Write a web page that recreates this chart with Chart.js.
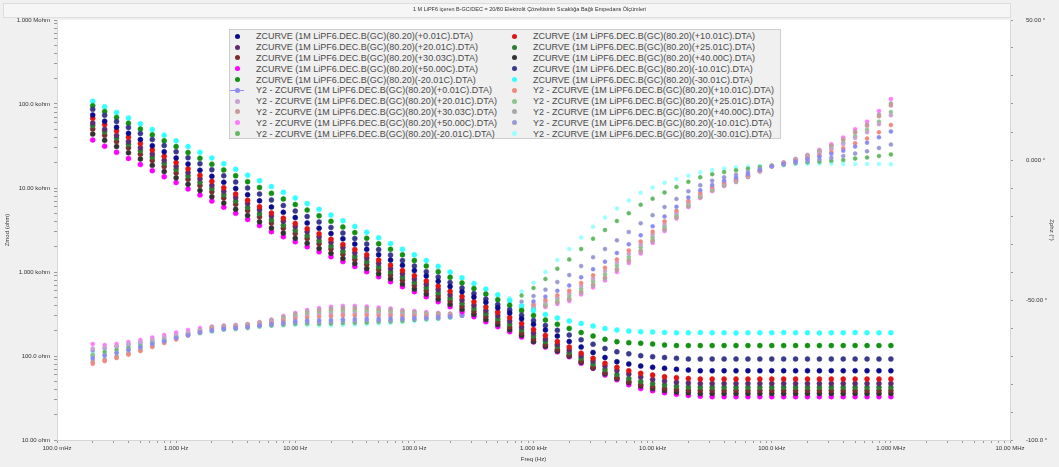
<!DOCTYPE html>
<html>
<head>
<meta charset="utf-8">
<title>Empedans Ölçümleri</title>
<script src="https://cdn.jsdelivr.net/npm/chart.js"></script>
<style>
    body { margin: 0; background: #f0f0f0; }
    #wrap { position: relative; width: 1059px; height: 467px; }
    #legend {
        position: absolute; left: 229px; top: 29px; width: 552px; height: 110px;
        background: #f0f0f0; border: 1px solid #cfcfcf; box-sizing: border-box;
        padding-top: 1px;
        display: grid; grid-template-columns: 277px 273px;
        font-family: "Liberation Sans", Arial, sans-serif; font-size: 9px; color: #4a4a4a;
    }
    .item { display: flex; align-items: center; height: 10.8px; white-space: nowrap; }
    .mk { position: relative; width: 14px; height: 10px; margin-right: 12px; }
    .mk i { position: absolute; left: 4.5px; top: 2.5px; width: 5px; height: 5px; border-radius: 50%; }
    .mk b { position: absolute; left: 0; top: 4.5px; width: 14px; height: 1px; }
</style>
</head>
<body>
<div id="wrap">
    <canvas id="impedanceChart"></canvas>
    <div id="legend"></div>
</div>
<script>
// Frequencies (Hz), 10 points per decade
const freqHz = [0.1995, 0.2512, 0.3162, 0.3981, 0.5012, 0.631, 0.7943, 1.0, 1.259, 1.585,
    1.995, 2.512, 3.162, 3.981, 5.012, 6.31, 7.943, 10, 12.59, 15.85,
    19.95, 25.12, 31.62, 39.81, 50.12, 63.1, 79.43, 100, 125.9, 158.5,
    199.5, 251.2, 316.2, 398.1, 501.2, 631, 794.3, 1000, 1259, 1585,
    1995, 2512, 3162, 3981, 5012, 6310, 7943, 10000, 12590, 15850,
    19950, 25120, 31620, 39810, 50120, 63100, 79430, 100000, 125900, 158500,
    199500, 251200, 316200, 398100, 501200, 631000, 794300, 1000000];

const temps = ['+0.01C', '+10.01C', '+20.01C', '+25.01C', '+30.03C', '+40.00C', '+50.00C', '-10.01C', '-20.01C', '-30.01C'];

// Zmod (ohm)
const zmodP0 = [74000, 62500, 52800, 44700, 37800, 31900, 27000, 22800, 19300, 16300,
    13800, 11700, 9850, 8320, 7040, 5940, 5140, 4440, 3840, 3320,
    2870, 2490, 2150, 1860, 1610, 1390, 1200, 1040, 899, 777,
    672, 581, 503, 435, 376, 325, 277, 238, 204, 173,
    149, 128, 110, 96.0, 85.5, 80.3, 76.0, 73.4, 71.4, 69.5,
    68.1, 66.8, 66.8, 66.8, 66.8, 66.8, 66.8, 66.8, 66.8, 66.8,
    66.8, 66.8, 66.8, 66.8, 66.8, 66.8, 66.8, 66.8];
const zmodP10 = [67600, 56900, 47800, 40200, 33800, 28400, 23900, 20100, 16900, 14200,
    12000, 10100, 8480, 7130, 6000, 5040, 4370, 3790, 3280, 2850,
    2460, 2130, 1850, 1600, 1390, 1210, 1040, 905, 784, 680,
    589, 511, 443, 384, 332, 288, 244, 207, 176, 149,
    128, 108, 93.9, 81.9, 73.4, 66.8, 62.2, 59.4, 56.7, 55.1,
    54.0, 53.2, 53.2, 53.2, 53.2, 53.2, 53.2, 53.2, 53.2, 53.2,
    53.2, 53.2, 53.2, 53.2, 53.2, 53.2, 53.2, 53.2];
const zmodP20 = [59400, 50100, 42300, 35700, 30100, 25400, 21400, 18100, 15300, 12900,
    10800, 9160, 7730, 6520, 5500, 4640, 4020, 3480, 3020, 2610,
    2260, 1960, 1690, 1470, 1270, 1100, 953, 825, 715, 619,
    536, 464, 402, 348, 302, 261, 221, 188, 159, 137,
    118, 101, 87.2, 76.0, 67.2, 61.1, 56.2, 52.5, 50.4, 48.6,
    47.7, 47.0, 47.0, 47.0, 47.0, 47.0, 47.0, 47.0, 47.0, 47.0,
    47.0, 47.0, 47.0, 47.0, 47.0, 47.0, 47.0, 47.0];
const zmodP25 = [55400, 46700, 39300, 33100, 27800, 23400, 19700, 16600, 14000, 11700,
    9860, 8300, 6980, 5870, 4940, 4160, 3610, 3130, 2710, 2350,
    2040, 1770, 1530, 1330, 1150, 1000, 867, 752, 652, 565,
    490, 425, 368, 320, 277, 240, 204, 173, 149, 130,
    110, 93.9, 80.3, 69.1, 60.2, 54.0, 49.7, 47.0, 45.2, 43.7,
    42.8, 42.4, 42.4, 42.4, 42.4, 42.4, 42.4, 42.4, 42.4, 42.4,
    42.4, 42.4, 42.4, 42.4, 42.4, 42.4, 42.4, 42.4];
const zmodP30 = [50400, 42400, 35700, 30100, 25300, 21300, 18000, 15100, 12700, 10700,
    9040, 7610, 6410, 5400, 4540, 3830, 3320, 2880, 2500, 2170,
    1880, 1630, 1410, 1230, 1060, 921, 799, 693, 600, 521,
    452, 391, 340, 295, 255, 221, 188, 159, 137, 120,
    103, 87.2, 74.0, 63.6, 55.4, 49.7, 45.8, 43.1, 41.0, 39.9,
    39.1, 38.8, 38.8, 38.8, 38.8, 38.8, 38.8, 38.8, 38.8, 38.8,
    38.8, 38.8, 38.8, 38.8, 38.8, 38.8, 38.8, 38.8];
const zmodP40 = [43900, 37000, 31200, 26300, 22100, 18600, 15700, 13200, 11100, 9360,
    7880, 6630, 5590, 4710, 3960, 3340, 2910, 2530, 2200, 1910,
    1670, 1450, 1260, 1100, 954, 830, 722, 628, 547, 476,
    414, 360, 313, 272, 237, 206, 176, 149, 131, 115,
    100, 84.5, 72.0, 61.5, 53.8, 48.3, 43.9, 40.9, 38.9, 37.4,
    36.4, 35.8, 35.8, 35.8, 35.8, 35.8, 35.8, 35.8, 35.8, 35.8,
    35.8, 35.8, 35.8, 35.8, 35.8, 35.8, 35.8, 35.8];
const zmodP50 = [37300, 31500, 26600, 22500, 19000, 16100, 13600, 11600, 9760, 8260,
    6980, 5900, 4990, 4220, 3570, 3020, 2630, 2290, 2000, 1740,
    1520, 1330, 1160, 1010, 879, 767, 668, 583, 508, 443,
    386, 337, 294, 256, 223, 195, 168, 147, 128, 112,
    98.0, 81.9, 71.4, 59.4, 52.2, 45.5, 40.9, 38.6, 36.6, 35.0,
    33.9, 33.2, 32.8, 32.8, 32.8, 32.8, 32.8, 32.8, 32.8, 32.8,
    32.8, 32.8, 32.8, 32.8, 32.8, 32.8, 32.8, 32.8];
const zmodM10 = [86500, 73300, 62100, 52600, 44600, 37800, 32000, 27100, 22900, 19500,
    16500, 14000, 11800, 10000, 8480, 7200, 6190, 5320, 4580, 3940,
    3390, 2910, 2510, 2150, 1850, 1590, 1370, 1180, 1010, 872,
    750, 645, 554, 477, 410, 353, 305, 265, 231, 202,
    178, 156, 138, 123, 112, 106, 101, 98.1, 96.0, 93.9,
    92.1, 92.1, 92.1, 92.1, 92.1, 92.1, 92.1, 92.1, 92.1, 92.1,
    92.1, 92.1, 92.1, 92.1, 92.1, 92.1, 92.1, 92.1];
const zmodM20 = [95400, 81300, 69300, 59000, 50300, 42900, 36500, 31100, 26500, 22600,
    19200, 16400, 14000, 11900, 10150, 8650, 7420, 6360, 5460, 4680,
    4010, 3440, 2950, 2530, 2170, 1860, 1600, 1370, 1180, 1010,
    865, 742, 636, 546, 468, 401, 348, 304, 268, 238,
    213, 190, 173, 158, 148, 144, 142, 139, 135, 133,
    133, 133, 133, 133, 133, 133, 133, 133, 133, 133,
    133, 133, 133, 133, 133, 133, 133, 133];
const zmodM30 = [108000, 92900, 79400, 68000, 58100, 49700, 42500, 36400, 31100, 26600,
    22800, 19500, 16700, 14200, 12200, 10400, 8910, 7620, 6520, 5580,
    4770, 4080, 3490, 2980, 2550, 2180, 1870, 1600, 1370, 1170,
    1000, 855, 732, 626, 535, 458, 394, 348, 312, 283,
    261, 244, 228, 212, 204, 198, 195, 193, 191, 189,
    189, 190, 189, 189, 188, 189, 189, 189, 190, 189,
    189, 188, 189, 189, 190, 189, 189, 189];

// Zphz (degrees)
const phaseP0 = [-70.7, -69.8, -68.9, -67.9, -66.9, -65.7, -64.7, -63.6, -62.6, -61.6,
    -60.8, -60.2, -60.0, -59.6, -59.1, -58.6, -58.1, -57.6, -57.3, -57.2,
    -57.1, -56.9, -56.8, -56.7, -56.7, -56.6, -56.6, -56.4, -56.3, -56.1,
    -55.9, -55.5, -54.9, -54.6, -53.8, -53.0, -52.0, -50.5, -48.8, -46.7,
    -44.8, -41.9, -39.0, -36.3, -33.2, -30.1, -26.9, -23.7, -20.2, -16.7,
    -13.4, -10.8, -8.9, -7.4, -6.3, -5.0, -3.5, -2.2, -1.4, -0.5,
    0.3, 1.2, 2.2, 3.3, 4.8, 6.2, 8.1, 10.2];
const phaseP10 = [-72.8, -71.8, -70.7, -69.5, -68.2, -66.8, -65.4, -64.1, -62.7, -61.5,
    -60.4, -59.9, -59.7, -59.3, -58.8, -58.2, -57.4, -56.8, -56.3, -56.0,
    -55.8, -55.5, -55.5, -55.5, -55.6, -55.6, -55.8, -55.7, -55.7, -55.7,
    -55.6, -55.4, -55.0, -54.7, -54.1, -53.5, -52.7, -51.5, -50.0, -48.3,
    -46.7, -43.9, -41.2, -38.5, -35.5, -32.3, -29.1, -25.6, -21.9, -18.1,
    -14.6, -11.8, -9.6, -8.0, -6.8, -5.4, -3.7, -2.2, -1.3, -0.3,
    0.6, 1.6, 2.8, 4.2, 6.0, 7.7, 9.9, 12.5];
const phaseP20 = [-67.3, -67.0, -66.5, -65.7, -65.0, -64.1, -63.2, -62.4, -61.5, -60.8,
    -60.2, -59.7, -59.5, -59.2, -58.6, -57.9, -57.1, -56.3, -55.7, -55.4,
    -55.1, -54.8, -54.8, -54.8, -55.0, -55.1, -55.3, -55.3, -55.4, -55.5,
    -55.4, -55.3, -55.0, -54.8, -54.3, -53.8, -53.0, -52.0, -50.6, -49.1,
    -47.6, -45.0, -42.3, -39.6, -36.6, -33.5, -30.2, -26.6, -22.8, -18.8,
    -15.1, -12.2, -10.0, -8.4, -7.1, -5.6, -3.8, -2.2, -1.1, -0.1,
    1.0, 2.4, 3.9, 5.7, 7.9, 9.9, 12.8, 16.0];
const phaseP25 = [-70.0, -69.6, -68.8, -67.7, -66.7, -65.5, -64.3, -63.1, -61.9, -60.9,
    -60.0, -59.6, -59.4, -59.0, -58.4, -57.7, -56.7, -55.9, -55.2, -54.8,
    -54.4, -54.1, -54.1, -54.2, -54.4, -54.6, -54.9, -55.0, -55.1, -55.3,
    -55.3, -55.2, -55.0, -54.9, -54.5, -54.1, -53.4, -52.4, -51.3, -49.8,
    -48.5, -46.0, -43.3, -40.8, -37.7, -34.6, -31.2, -27.6, -23.7, -19.5,
    -15.7, -12.7, -10.4, -8.7, -7.4, -5.7, -3.9, -2.2, -1.1, 0.0,
    1.2, 2.6, 4.2, 6.1, 8.5, 10.7, 13.7, 17.1];
const phaseP30 = [-72.2, -71.7, -70.6, -69.4, -68.1, -66.6, -65.1, -63.7, -62.2, -61.0,
    -59.9, -59.4, -59.2, -58.9, -58.2, -57.5, -56.4, -55.5, -54.7, -54.1,
    -53.7, -53.5, -53.4, -53.6, -53.8, -54.0, -54.5, -54.6, -54.9, -55.0,
    -55.1, -55.1, -55.0, -54.9, -54.6, -54.3, -53.7, -52.9, -51.9, -50.6,
    -49.5, -47.0, -44.4, -41.9, -38.9, -35.7, -32.3, -28.6, -24.5, -20.2,
    -16.2, -13.1, -10.7, -9.0, -7.6, -5.9, -4.0, -2.3, -1.0, 0.2,
    1.5, 3.1, 4.9, 7.1, 9.8, 12.2, 15.6, 19.5];
const phaseP40 = [-71.4, -71.1, -70.1, -68.9, -67.7, -66.2, -64.8, -63.4, -62.0, -60.7,
    -59.7, -59.3, -59.1, -58.7, -58.1, -57.2, -56.0, -55.0, -54.1, -53.5,
    -53.1, -52.8, -52.8, -52.9, -53.3, -53.5, -54.0, -54.3, -54.6, -54.8,
    -55.0, -55.1, -55.0, -55.0, -54.7, -54.4, -53.9, -53.1, -52.1, -50.9,
    -49.8, -47.4, -44.9, -42.3, -39.3, -36.1, -32.8, -29.0, -24.9, -20.5,
    -16.5, -13.3, -10.9, -9.1, -7.7, -6.0, -4.0, -2.3, -1.0, 0.3,
    1.6, 3.3, 5.1, 7.3, 10.1, 12.6, 16.2, 20.2];
const phaseP50 = [-65.7, -66.1, -65.7, -65.0, -64.3, -63.4, -62.5, -61.6, -60.7, -60.0,
    -59.5, -59.1, -58.9, -58.6, -57.9, -57.0, -55.7, -54.6, -53.6, -52.9,
    -52.4, -52.1, -52.1, -52.3, -52.7, -53.0, -53.6, -53.9, -54.3, -54.6,
    -54.8, -55.0, -55.0, -55.0, -54.8, -54.6, -54.1, -53.4, -52.5, -51.4,
    -50.4, -48.0, -45.5, -43.0, -40.0, -36.8, -33.4, -29.6, -25.4, -20.9,
    -16.8, -13.6, -11.1, -9.3, -7.9, -6.1, -4.1, -2.3, -0.9, 0.4,
    1.8, 3.6, 5.6, 8.0, 11.0, 13.7, 17.5, 21.8];
const phaseM10 = [-68.0, -67.2, -66.6, -65.9, -65.2, -64.4, -63.6, -62.9, -62.1, -61.4,
    -60.9, -60.4, -60.1, -59.7, -59.3, -58.8, -58.4, -58.0, -57.8, -57.9,
    -57.8, -57.5, -57.5, -57.3, -57.3, -57.2, -57.0, -56.8, -56.5, -56.4,
    -56.1, -55.6, -54.9, -54.3, -53.1, -52.0, -50.6, -48.6, -46.3, -43.6,
    -41.1, -37.9, -34.7, -31.8, -28.7, -25.7, -22.6, -19.7, -16.8, -13.9,
    -11.2, -9.0, -7.4, -6.2, -5.3, -4.3, -3.1, -2.1, -1.5, -0.9,
    -0.4, 0.2, 0.8, 1.4, 2.3, 3.1, 4.3, 5.5];
const phaseM20 = [-69.7, -68.6, -67.8, -67.0, -66.1, -65.2, -64.3, -63.5, -62.6, -61.8,
    -61.1, -60.5, -60.3, -59.9, -59.4, -59.1, -58.8, -58.5, -58.4, -58.5,
    -58.4, -58.2, -58.1, -58.0, -57.8, -57.7, -57.5, -57.1, -56.8, -56.6,
    -56.2, -55.6, -54.8, -53.9, -52.1, -50.4, -48.4, -45.7, -42.5, -38.8,
    -35.5, -31.8, -28.1, -25.0, -21.8, -19.0, -16.0, -13.8, -11.6, -9.6,
    -7.8, -6.2, -5.1, -4.3, -3.7, -3.1, -2.5, -2.0, -1.7, -1.1,
    -0.8, -0.6, -0.3, 0.0, 0.5, 0.9, 1.4, 2.0];
const phaseM30 = [-68.6, -67.5, -66.8, -66.1, -65.4, -64.6, -63.9, -63.2, -62.5, -61.8,
    -61.3, -60.7, -60.4, -60.0, -59.6, -59.3, -59.1, -58.9, -58.9, -59.1,
    -59.1, -58.9, -58.8, -58.6, -58.4, -58.2, -57.9, -57.5, -57.1, -56.8,
    -56.4, -55.7, -54.8, -53.6, -51.4, -49.3, -47.0, -43.8, -40.0, -35.7,
    -31.8, -27.7, -23.8, -20.5, -17.3, -14.5, -11.7, -9.8, -8.1, -6.8,
    -5.6, -4.4, -3.6, -3.0, -2.6, -2.4, -2.1, -2.0, -1.8, -1.4,
    -1.3, -1.3, -1.3, -1.4, -1.4, -1.4, -1.4, -1.5];

const zmodSeries = [zmodP0, zmodP10, zmodP20, zmodP25, zmodP30, zmodP40, zmodP50, zmodM10, zmodM20, zmodM30];
const phaseSeries = [phaseP0, phaseP10, phaseP20, phaseP25, phaseP30, phaseP40, phaseP50, phaseM10, phaseM20, phaseM30];
const zmodColors = ['#0c0c8c', '#e01414', '#5e2c70', '#2e7d32', '#7a2e2e', '#333333', '#ff00ff', '#3a3a8c', '#149014', '#33ffff'];
const phaseColors = ['#8c8cf0', '#f08a80', '#c8a2d0', '#8fc48f', '#c99a9a', '#a8a8a8', '#ff7aff', '#9a9ad6', '#66b866', '#99ffff'];

// Axis tick labels
const xTickLabels = ['100.0 mHz', '1.000 Hz', '10.00 Hz', '100.0 Hz', '1.000 kHz', '10.00 kHz', '100.0 kHz', '1.000 MHz', '10.00 MHz'];
const yTickLabels = ['10.00 ohm', '100.0 ohm', '1.000 kohm', '10.00 kohm', '100.0 kohm', '1.000 Mohm'];
const phaseTickValues = [-100, -50, 0, 50];
const phaseTickLabels = ['-100.0 °', '-50.00 °', '0.000 °', '50.00 °'];

const chartTitle = '1 M LiPF6 içeren B-GC/DEC = 20/80 Elektrolit Çözeltisinin Sıcaklığa Bağlı Empedans Ölçümleri';

function fileName(t) {
    return 'ZCURVE (1M LiPF6.DEC.B(GC)(80.20)(' + t + ').DTA)';
}

function toPoints(values) {
    return freqHz.map((f, i) => ({ x: f, y: values[i] }));
}

const datasets = [];
temps.forEach((t, i) => {
    datasets.push({
        label: fileName(t),
        data: toPoints(zmodSeries[i]),
        yAxisID: 'y',
        pointRadius: 2.5,
        pointBackgroundColor: zmodColors[i],
        pointBorderColor: zmodColors[i],
        pointBorderWidth: 0.5,
        showLine: false
    });
});
temps.forEach((t, i) => {
    datasets.push({
        label: 'Y2 - ' + fileName(t),
        data: toPoints(phaseSeries[i]),
        yAxisID: 'y2',
        pointRadius: 2,
        pointBackgroundColor: phaseColors[i],
        pointBorderColor: phaseColors[i],
        pointBorderWidth: 0.5,
        showLine: false
    });
});

// log ticks: decades plus 2..9 minor marks
function logTicks(scale) {
    const ticks = [];
    const e0 = Math.round(Math.log10(scale.min));
    const e1 = Math.round(Math.log10(scale.max));
    for (let e = e0; e < e1; e++) {
        for (let j = 1; j < 10; j++) ticks.push({ value: j * Math.pow(10, e) });
    }
    ticks.push({ value: Math.pow(10, e1) });
    scale.ticks = ticks;
}

function decadeLabel(labels, firstExp) {
    return function (v) {
        const e = Math.log10(v);
        const r = Math.round(e);
        return Math.abs(e - r) < 1e-6 ? labels[r - firstExp] : '';
    };
}

// background: gray frame, white plot area
const backgroundPlugin = {
    id: 'bg',
    beforeDraw(chart) {
        const { ctx, chartArea: a, width, height } = chart;
        ctx.save();
        ctx.fillStyle = '#f0f0f0';
        ctx.fillRect(0, 0, width, height);
        ctx.fillStyle = '#f6f6f6';
        ctx.fillRect(3, 3, a.right - 3, 14);
        ctx.strokeStyle = '#dddddd';
        ctx.strokeRect(3.5, 3.5, a.right - 3, 14);
        ctx.fillStyle = '#ffffff';
        ctx.fillRect(a.left, a.top, a.right - a.left, a.bottom - a.top);
        ctx.restore();
    }
};

const tickFont = { family: '"Liberation Sans", Arial, sans-serif', size: 6 };

const ctx = document.getElementById('impedanceChart').getContext('2d');
const impedanceChart = new Chart(ctx, {
    type: 'scatter',
    data: { datasets: datasets },
    options: {
        responsive: true,
        maintainAspectRatio: false,
        animation: false,
        layout: { padding: 0 },
        plugins: {
            legend: { display: false },
            tooltip: { enabled: false },
            title: {
                display: true,
                text: chartTitle,
                color: '#333',
                font: { family: '"Liberation Sans", Arial, sans-serif', size: 5.5, weight: 'normal' },
                padding: { top: 6, bottom: 7.4 }
            }
        },
        scales: {
            x: {
                type: 'logarithmic',
                min: 0.1,
                max: 1e7,
                afterBuildTicks: logTicks,
                afterFit: (s) => { s.height = 27; },
                grid: { drawOnChartArea: false, tickLength: 3, color: '#9a9a9a' },
                border: { color: '#d6d6d6' },
                ticks: { autoSkip: false, maxRotation: 0, padding: 2, color: '#333', font: tickFont,
                         callback: decadeLabel(xTickLabels, -1) },
                title: { display: true, text: 'Freq (Hz)', color: '#333', font: tickFont, padding: { top: 0, bottom: 4 } }
            },
            y: {
                type: 'logarithmic',
                position: 'left',
                min: 10,
                max: 1e6,
                afterBuildTicks: logTicks,
                afterFit: (s) => { s.width = 57; },
                grid: { drawOnChartArea: false, tickLength: 3, color: '#9a9a9a' },
                border: { color: '#d6d6d6' },
                ticks: { autoSkip: false, padding: 4, color: '#333', font: tickFont,
                         callback: decadeLabel(yTickLabels, 1) },
                title: { display: true, text: 'Zmod (ohm)', color: '#333', font: tickFont, padding: { top: 4, bottom: 0 } }
            },
            y2: {
                type: 'linear',
                position: 'right',
                min: -100,
                max: 50,
                afterFit: (s) => { s.width = 49; },
                grid: { drawOnChartArea: false, tickLength: 3, color: '#9a9a9a' },
                border: { color: '#d6d6d6' },
                ticks: { stepSize: 10, autoSkip: false, padding: 13, color: '#333', font: tickFont,
                         callback: (v) => {
                             const i = phaseTickValues.indexOf(v);
                             return i >= 0 ? phaseTickLabels[i] : '';
                         } },
                title: { display: true, text: 'Zphz (°)', color: '#333', font: tickFont, padding: { top: 4, bottom: 0 } }
            }
        }
    },
    plugins: [backgroundPlugin]
});

// Legend box inside the plot, two columns
const legendBox = document.getElementById('legend');
impedanceChart.data.datasets.forEach((ds, i) => {
    const item = document.createElement('div');
    item.className = 'item';
    const mk = document.createElement('span');
    mk.className = 'mk';
    if (i === temps.length) {
        const line = document.createElement('b');
        line.style.background = ds.pointBackgroundColor;
        mk.appendChild(line);
    }
    const dot = document.createElement('i');
    dot.style.background = ds.pointBackgroundColor;
    mk.appendChild(dot);
    const text = document.createElement('span');
    text.innerText = ds.label;
    item.appendChild(mk);
    item.appendChild(text);
    legendBox.appendChild(item);
});
</script>
</body>
</html>
